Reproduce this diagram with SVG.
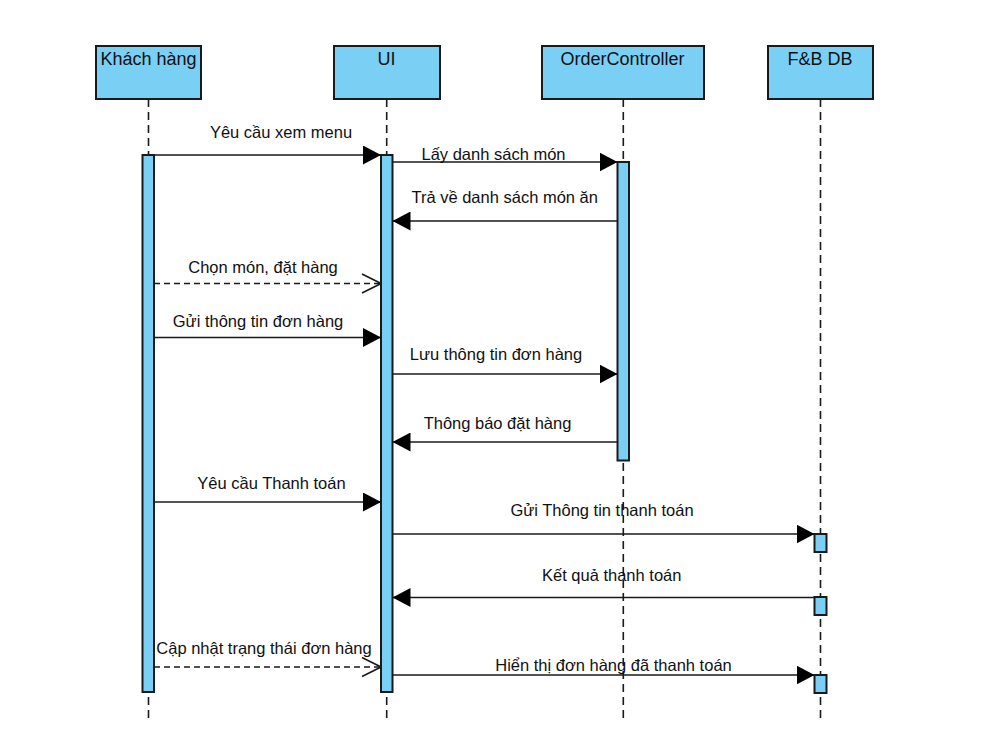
<svg xmlns="http://www.w3.org/2000/svg" width="1005" height="748" viewBox="0 0 1005 748">
<defs>
<style>
.head{fill:#7acff4;stroke:#1a1a1a;stroke-width:2}
.act{fill:#7acff4;stroke:#1a1a1a;stroke-width:2}
.life{stroke:#1a1a1a;stroke-width:1.6;stroke-dasharray:8 5;fill:none}
.msg{stroke:#1a1a1a;stroke-width:1.6;fill:none}
.ret{stroke:#1a1a1a;stroke-width:1.6;fill:none;stroke-dasharray:6 4}
text{font-family:"Liberation Sans",Arial,sans-serif;font-size:16.5px;fill:#111;text-anchor:middle}
text.title{font-size:18px}
</style>
<marker id="filled" viewBox="0 0 18 19" refX="18" refY="9.5" markerWidth="18" markerHeight="19" markerUnits="userSpaceOnUse" orient="auto">
<path d="M0,0 L18,9.5 L0,19 Z" fill="#000"/>
</marker>
<marker id="open" viewBox="-1 -1 21 21" refX="19" refY="9.5" markerWidth="21" markerHeight="21" markerUnits="userSpaceOnUse" orient="auto">
<path d="M0,0 L19,9.5 L0,19" fill="none" stroke="#1a1a1a" stroke-width="1.6"/>
</marker>
</defs>
<rect width="1005" height="748" fill="#fff"/>

<g id="khachhang">
<rect class="head" x="96" y="46" width="105" height="53"/>
<line class="life" x1="148.5" y1="99" x2="148.5" y2="718"/>
<rect class="act" x="142.5" y="155" width="11.5" height="537"/>
<text class="title" x="148.5" y="64.5">Khách hàng</text>
</g>

<g id="ui">
<rect class="head" x="334" y="46" width="106" height="53"/>
<line class="life" x1="386.7" y1="99" x2="386.7" y2="718"/>
<rect class="act" x="381" y="155" width="11.5" height="537"/>
<text class="title" x="386.5" y="64.5">UI</text>
</g>

<g id="ordercontroller">
<rect class="head" x="542" y="46" width="162" height="53"/>
<line class="life" x1="623.3" y1="99" x2="623.3" y2="718"/>
<rect class="act" x="617.5" y="162" width="11.5" height="298.5"/>
<text class="title" x="622.5" y="64.5">OrderController</text>
</g>

<g id="fbdb">
<rect class="head" x="768" y="46" width="105" height="53"/>
<line class="life" x1="820.5" y1="99" x2="820.5" y2="718"/>
<rect class="act" x="814.5" y="534" width="12" height="18"/>
<rect class="act" x="814.5" y="597" width="12" height="18"/>
<rect class="act" x="814.5" y="675" width="12" height="18"/>
<text class="title" x="820" y="64.5">F&amp;B DB</text>
</g>

<g id="connectors">
<line class="msg" x1="154" y1="155" x2="381" y2="155" marker-end="url(#filled)"/>
<text x="281" y="138">Yêu cầu xem menu</text>

<line class="msg" x1="392.5" y1="162" x2="617.5" y2="162" marker-end="url(#filled)"/>
<text x="493.5" y="160">Lấy danh sách món</text>

<line class="msg" x1="617.5" y1="221" x2="392.5" y2="221" marker-end="url(#filled)"/>
<text x="504.7" y="203">Trả về danh sách món ăn</text>

<line class="ret" x1="154" y1="283.5" x2="381" y2="283.5" marker-end="url(#open)"/>
<text x="263" y="272.5">Chọn món, đặt hàng</text>

<line class="msg" x1="154" y1="337.5" x2="381" y2="337.5" marker-end="url(#filled)"/>
<text x="258" y="326.5">Gửi thông tin đơn hàng</text>

<line class="msg" x1="392.5" y1="374" x2="617.5" y2="374" marker-end="url(#filled)"/>
<text x="496" y="360">Lưu thông tin đơn hàng</text>

<line class="msg" x1="617.5" y1="442" x2="392.5" y2="442" marker-end="url(#filled)"/>
<text x="497.5" y="429">Thông báo đặt hàng</text>

<line class="msg" x1="154" y1="502" x2="381" y2="502" marker-end="url(#filled)"/>
<text x="271.5" y="488.5">Yêu cầu Thanh toán</text>

<line class="msg" x1="392.5" y1="534" x2="814.5" y2="534" marker-end="url(#filled)"/>
<text x="602" y="515.5">Gửi Thông tin thanh toán</text>

<line class="msg" x1="814.5" y1="597.5" x2="392.5" y2="597.5" marker-end="url(#filled)"/>
<text x="611.7" y="581">Kết quả thanh toán</text>

<line class="ret" x1="154" y1="667" x2="381" y2="667" marker-end="url(#open)"/>
<text x="264" y="653.5">Cập nhật trạng thái đơn hàng</text>

<line class="msg" x1="392.5" y1="675" x2="814.5" y2="675" marker-end="url(#filled)"/>
<text x="613.5" y="671">Hiển thị đơn hàng đã thanh toán</text>
</g>
</svg>
